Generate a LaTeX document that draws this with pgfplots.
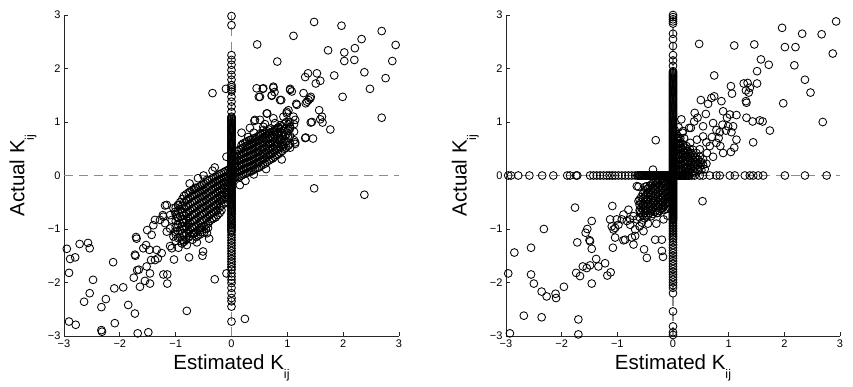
\documentclass[border=0pt]{standalone}
\usepackage{fontspec}
\setmainfont{Liberation Sans}
\usepackage{pgfplots}
\pgfplotsset{compat=1.18}

\definecolor{dashgray}{RGB}{140,140,140}
\newcommand{\Kij}{K\raisebox{-9.5pt}{\fontsize{12.5}{13}\selectfont ij}}

\pgfplotsset{kstyle/.style={
  scale only axis, height=321pt,
  xmin=-3, xmax=3, ymin=-3, ymax=3,
  axis x line=bottom, axis y line=left,
  axis line style={-, line width=0.8pt, black!85},
  tick align=inside, major tick length=4pt,
  tick style={black!85, line width=0.8pt},
  xtick={-3,...,3}, ytick={-3,...,3},
  xticklabels={−3,−2,−1,0,1,2,3}, yticklabels={−3,−2,−1,0,1,2,3},
  tick label style={font=\fontsize{11}{12}\selectfont},
  label style={font=\fontsize{20.5}{24}\selectfont},
  xlabel={Estimated \Kij}, ylabel={Actual \Kij},
  xlabel style={at={(axis description cs:0.5,-0.103)}, anchor=base},
  ylabel style={at={(axis description cs:-0.118,0.5)}, anchor=base},
  clip=false},
  zeroline/.style={dashgray, line width=1.3pt, dash pattern=on 9pt off 6pt, forget plot},
  pts/.style={only marks, mark=o, mark size=3.9pt, black, mark options={line width=0.85pt}}
}

\begin{document}
\begin{tikzpicture}
\path[use as bounding box] (0,0) rectangle (853pt,386pt);

% ---------- left: first estimator ----------
\begin{axis}[kstyle, width=335pt, at={(64pt,50pt)}, anchor=south west]
\addplot[zeroline] coordinates {(-3,0) (3,0)};
\addplot[zeroline] coordinates {(0,-3) (0,3)};
% column at estimated = 0
\addplot[pts] coordinates {
(0,2.98)(0,2.81)(0,2.25)(0,2.16)(0,2.07)(0,1.97)(0,1.88)(0,1.79)(0,1.69)(0,1.65)(0,1.61)(0,1.57)(0,1.47)(0,1.38)(0,1.29)(0,1.19)(0,1.10)
(0,1.06)(0,1.02)(0,0.98)(0,0.94)(0,0.90)(0,0.86)(0,0.82)(0,0.78)(0,0.74)(0,0.70)(0,0.66)(0,0.62)(0,0.58)(0,0.54)(0,0.50)(0,0.46)(0,0.42)(0,0.38)(0,0.34)(0,0.30)(0,0.26)(0,0.22)(0,0.18)(0,0.14)(0,0.10)(0,0.06)(0,0.02)
(0,1.08)(0,1.04)(0,1.00)(0,0.96)(0,0.92)(0,0.88)(0,0.84)(0,0.80)(0,0.76)(0,0.72)(0,0.68)(0,0.64)(0,0.60)(0,0.56)(0,0.52)(0,0.48)(0,0.44)(0,0.40)(0,0.36)(0,0.32)(0,0.28)(0,0.24)(0,0.20)(0,0.16)(0,0.12)(0,0.08)(0,0.04)(0,0.00)
(0,-0.02)(0,-0.06)(0,-0.10)(0,-0.14)(0,-0.18)(0,-0.22)(0,-0.26)(0,-0.30)(0,-0.34)(0,-0.38)(0,-0.42)(0,-0.46)(0,-0.50)(0,-0.54)(0,-0.58)(0,-0.62)(0,-0.66)(0,-0.71)(0,-0.76)(0,-0.81)(0,-0.86)(0,-0.91)(0,-0.96)(0,-1.01)(0,-1.06)(0,-1.11)(0,-1.16)(0,-1.21)(0,-1.26)(0,-1.31)(0,-1.36)(0,-1.41)(0,-1.46)(0,-1.51)(0,-1.56)(0,-1.61)(0,-1.66)(0,-1.71)(0,-1.76)
(0,-0.04)(0,-0.08)(0,-0.12)(0,-0.16)(0,-0.20)(0,-0.24)(0,-0.28)(0,-0.32)(0,-0.36)(0,-0.40)(0,-0.44)(0,-0.48)(0,-0.52)(0,-0.56)(0,-0.60)(0,-0.64)(0,-0.68)(0,-0.73)(0,-0.78)(0,-0.83)(0,-0.88)(0,-0.93)(0,-0.98)(0,-1.03)
(0,-1.83)(0,-1.89)(0,-1.95)(0,-2.01)(0,-2.10)(0,-2.20)(0,-2.29)(0,-2.35)(0,-2.45)(0,-2.73)
};
% main diagonal band
\addplot[pts] coordinates {
(-1.00,-0.60)(-1.00,-0.72)(-1.00,-0.85)(-1.00,-0.97)(-1.00,-1.10)(-1.00,-1.22)
(-0.92,-0.50)(-0.92,-0.63)(-0.92,-0.76)(-0.92,-0.90)(-0.92,-1.03)(-0.92,-1.16)
(-0.85,-0.38)(-0.85,-0.50)(-0.85,-0.62)(-0.85,-0.75)(-0.85,-0.88)(-0.85,-1.00)(-0.85,-1.12)(-0.85,-1.24)
(-0.77,-0.32)(-0.77,-0.44)(-0.77,-0.56)(-0.77,-0.68)(-0.77,-0.80)(-0.77,-0.92)(-0.77,-1.04)(-0.77,-1.16)
(-0.70,-0.27)(-0.70,-0.38)(-0.70,-0.50)(-0.70,-0.62)(-0.70,-0.74)(-0.70,-0.86)(-0.70,-0.98)(-0.70,-1.10)(-0.70,-1.20)
(-0.63,-0.24)(-0.63,-0.35)(-0.63,-0.46)(-0.63,-0.58)(-0.63,-0.70)(-0.63,-0.82)(-0.63,-0.94)(-0.63,-1.06)(-0.63,-1.15)
(-0.56,-0.20)(-0.56,-0.30)(-0.56,-0.41)(-0.56,-0.52)(-0.56,-0.63)(-0.56,-0.75)(-0.56,-0.86)(-0.56,-0.98)(-0.56,-1.10)
(-0.49,-0.16)(-0.49,-0.27)(-0.49,-0.38)(-0.49,-0.49)(-0.49,-0.60)(-0.49,-0.71)(-0.49,-0.83)(-0.49,-0.95)(-0.49,-1.06)
(-0.42,-0.10)(-0.42,-0.21)(-0.42,-0.32)(-0.42,-0.43)(-0.42,-0.54)(-0.42,-0.65)(-0.42,-0.77)(-0.42,-0.90)(-0.42,-0.98)
(-0.35,-0.06)(-0.35,-0.16)(-0.35,-0.27)(-0.35,-0.38)(-0.35,-0.49)(-0.35,-0.60)(-0.35,-0.71)(-0.35,-0.82)
(-0.28,-0.02)(-0.28,-0.12)(-0.28,-0.22)(-0.28,-0.33)(-0.28,-0.44)(-0.28,-0.55)(-0.28,-0.66)(-0.28,-0.78)
(-0.21,0.02)(-0.21,-0.08)(-0.21,-0.18)(-0.21,-0.28)(-0.21,-0.38)(-0.21,-0.48)(-0.21,-0.60)(-0.21,-0.70)
(-0.14,0.06)(-0.14,-0.04)(-0.14,-0.13)(-0.14,-0.23)(-0.14,-0.33)(-0.14,-0.43)(-0.14,-0.53)
(-0.07,0.10)(-0.07,0.00)(-0.07,-0.09)(-0.07,-0.18)(-0.07,-0.27)(-0.07,-0.36)(-0.07,-0.45)
(0.07,-0.04)(0.07,0.05)(0.07,0.14)(0.07,0.23)(0.07,0.32)(0.07,0.41)
(0.14,-0.02)(0.14,0.08)(0.14,0.18)(0.14,0.28)(0.14,0.38)(0.14,0.48)
(0.21,0.02)(0.21,0.12)(0.21,0.22)(0.21,0.32)(0.21,0.42)(0.21,0.52)(0.21,0.60)
(0.28,0.05)(0.28,0.15)(0.28,0.25)(0.28,0.35)(0.28,0.45)(0.28,0.55)(0.28,0.64)
(0.35,0.08)(0.35,0.18)(0.35,0.28)(0.35,0.38)(0.35,0.48)(0.35,0.58)(0.35,0.67)
(0.42,0.12)(0.42,0.22)(0.42,0.32)(0.42,0.42)(0.42,0.52)(0.42,0.62)(0.42,0.70)
(0.49,0.15)(0.49,0.25)(0.49,0.35)(0.49,0.45)(0.49,0.55)(0.49,0.65)(0.49,0.74)
(0.56,0.20)(0.56,0.30)(0.56,0.40)(0.56,0.50)(0.56,0.60)(0.56,0.70)(0.56,0.78)
(0.63,0.25)(0.63,0.35)(0.63,0.45)(0.63,0.55)(0.63,0.65)(0.63,0.75)(0.63,0.83)
(0.70,0.30)(0.70,0.40)(0.70,0.50)(0.70,0.60)(0.70,0.70)(0.70,0.80)(0.70,0.88)
(0.77,0.35)(0.77,0.45)(0.77,0.55)(0.77,0.65)(0.77,0.75)(0.77,0.85)
(0.84,0.40)(0.84,0.50)(0.84,0.60)(0.84,0.70)(0.84,0.80)(0.84,0.90)
(0.91,0.46)(0.91,0.57)(0.91,0.68)(0.91,0.80)(0.91,0.92)
(0.98,0.52)(0.98,0.64)(0.98,0.76)(0.98,0.88)(0.98,1.00)
(1.05,0.60)(1.05,0.74)(1.05,0.88)(1.05,1.00)
(1.12,0.66)(1.12,0.82)(1.12,0.96)
(-0.96,-0.55)(-0.96,-0.67)(-0.96,-0.79)(-0.96,-0.92)(-0.96,-1.04)(-0.96,-1.17)
(-0.88,-0.44)(-0.88,-0.56)(-0.88,-0.69)(-0.88,-0.82)(-0.88,-0.95)(-0.88,-1.08)(-0.88,-1.20)
(-0.81,-0.35)(-0.81,-0.47)(-0.81,-0.59)(-0.81,-0.72)(-0.81,-0.84)(-0.81,-0.96)(-0.81,-1.08)(-0.81,-1.20)
(-0.74,-0.30)(-0.74,-0.41)(-0.74,-0.53)(-0.74,-0.65)(-0.74,-0.77)(-0.74,-0.89)(-0.74,-1.01)(-0.74,-1.13)
(-0.67,-0.26)(-0.67,-0.37)(-0.67,-0.48)(-0.67,-0.60)(-0.67,-0.72)(-0.67,-0.84)(-0.67,-0.96)(-0.67,-1.08)
(-0.60,-0.22)(-0.60,-0.32)(-0.60,-0.43)(-0.60,-0.55)(-0.60,-0.66)(-0.60,-0.78)(-0.60,-0.90)(-0.60,-1.02)(-0.60,-1.12)
(-0.53,-0.18)(-0.53,-0.28)(-0.53,-0.39)(-0.53,-0.50)(-0.53,-0.61)(-0.53,-0.73)(-0.53,-0.84)(-0.53,-0.96)(-0.53,-1.06)
(-0.46,-0.13)(-0.46,-0.24)(-0.46,-0.35)(-0.46,-0.46)(-0.46,-0.57)(-0.46,-0.68)(-0.46,-0.80)(-0.46,-0.92)(-0.46,-1.00)
(-0.39,-0.08)(-0.39,-0.19)(-0.39,-0.30)(-0.39,-0.41)(-0.39,-0.52)(-0.39,-0.63)(-0.39,-0.74)(-0.39,-0.85)
(-0.32,-0.04)(-0.32,-0.14)(-0.32,-0.25)(-0.32,-0.36)(-0.32,-0.47)(-0.32,-0.58)(-0.32,-0.69)(-0.32,-0.80)
(-0.25,0.00)(-0.25,-0.10)(-0.25,-0.20)(-0.25,-0.31)(-0.25,-0.42)(-0.25,-0.53)(-0.25,-0.64)(-0.25,-0.74)
(-0.18,0.04)(-0.18,-0.06)(-0.18,-0.16)(-0.18,-0.26)(-0.18,-0.36)(-0.18,-0.46)(-0.18,-0.56)(-0.18,-0.65)
(-0.11,0.08)(-0.11,-0.02)(-0.11,-0.11)(-0.11,-0.20)(-0.11,-0.30)(-0.11,-0.40)(-0.11,-0.50)
(-0.04,0.12)(-0.04,0.03)(-0.04,-0.06)(-0.04,-0.15)(-0.04,-0.24)(-0.04,-0.33)(-0.04,-0.42)
(0.04,-0.06)(0.04,0.02)(0.04,0.10)(0.04,0.19)(0.04,0.28)(0.04,0.37)
(0.11,-0.03)(0.11,0.06)(0.11,0.16)(0.11,0.26)(0.11,0.35)(0.11,0.45)
(0.18,0.00)(0.18,0.10)(0.18,0.20)(0.18,0.30)(0.18,0.40)(0.18,0.50)(0.18,0.57)
(0.25,0.04)(0.25,0.14)(0.25,0.24)(0.25,0.34)(0.25,0.44)(0.25,0.54)(0.25,0.62)
(0.32,0.07)(0.32,0.17)(0.32,0.27)(0.32,0.37)(0.32,0.47)(0.32,0.57)(0.32,0.66)
(0.39,0.10)(0.39,0.20)(0.39,0.30)(0.39,0.40)(0.39,0.50)(0.39,0.60)(0.39,0.69)
(0.46,0.14)(0.46,0.24)(0.46,0.34)(0.46,0.44)(0.46,0.54)(0.46,0.64)(0.46,0.72)
(0.53,0.18)(0.53,0.28)(0.53,0.38)(0.53,0.48)(0.53,0.58)(0.53,0.68)(0.53,0.76)
(0.60,0.22)(0.60,0.32)(0.60,0.42)(0.60,0.52)(0.60,0.62)(0.60,0.72)(0.60,0.80)
(0.67,0.28)(0.67,0.38)(0.67,0.48)(0.67,0.58)(0.67,0.68)(0.67,0.78)(0.67,0.86)
(0.74,0.32)(0.74,0.42)(0.74,0.52)(0.74,0.62)(0.74,0.72)(0.74,0.82)
(0.81,0.38)(0.81,0.48)(0.81,0.58)(0.81,0.68)(0.81,0.78)(0.81,0.88)
(0.88,0.43)(0.88,0.54)(0.88,0.65)(0.88,0.76)(0.88,0.87)
(0.95,0.50)(0.95,0.62)(0.95,0.74)(0.95,0.86)(0.95,0.97)
(1.02,0.56)(1.02,0.70)(1.02,0.84)(1.02,0.96)
};
% scattered points
\addplot[pts] coordinates {
(0.46,2.45)(-0.34,1.54)(-0.10,1.62)(0.45,1.63)(0.49,1.47)(0.41,1.02)(0.33,0.89)(0.18,0.80)
(-0.34,0.09)(-0.09,0.35)(0.15,-0.18)(-0.44,-0.08)(-0.65,-0.23)
(1.48,2.87)(1.97,2.80)(1.11,2.61)(2.69,2.70)(2.94,2.44)(2.33,2.55)(2.21,2.38)(2.02,2.30)(1.73,2.34)
(2.20,2.16)(2.02,2.14)(2.88,2.14)(0.82,2.13)(1.37,1.91)(1.32,1.84)(1.53,1.91)(1.59,1.77)(1.51,1.72)
(1.84,1.87)(2.38,1.93)(2.76,1.82)(2.48,1.62)(1.99,1.47)(2.69,1.08)
(0.56,1.62)(0.51,1.47)(0.75,1.64)(0.72,1.49)(0.77,1.56)(0.89,1.41)(1.05,1.62)(1.08,1.57)
(1.29,1.54)(1.42,1.47)(1.38,1.41)(1.33,1.35)(1.16,1.34)(1.57,1.22)(1.62,1.10)(1.59,1.05)(1.63,0.99)
(1.42,0.99)(1.77,0.86)(1.33,0.71)(1.46,0.69)(1.14,0.59)(1.05,0.52)(1.48,-0.24)(2.38,-0.36)(0.24,-2.68)
(0.57,1.63)(0.75,1.66)(0.72,1.50)(0.87,1.41)(1.05,1.60)(1.35,1.38)(1.41,1.44)(1.44,1.00)(1.17,1.32)
(0.99,1.19)(0.63,1.16)(0.51,1.04)(0.42,1.04)(0.78,0.98)(0.84,0.88)(0.57,0.85)(1.32,0.70)(1.14,0.62)
(0.57,0.91)(0.64,1.16)(0.75,1.07)(0.87,0.94)(0.52,0.79)(0.87,0.66)(0.69,0.60)(0.93,0.54)(0.99,1.16)
(1.02,1.22)(0.93,1.10)(1.11,1.10)(1.14,1.04)(1.05,0.91)(0.78,0.82)(0.60,0.96)(0.30,0.72)(0.40,0.80)
(-2.95,-1.37)(-2.89,-1.56)(-2.80,-1.53)(-2.91,-1.82)(-2.72,-1.28)(-2.57,-1.26)(-2.54,-1.36)
(-2.48,-1.95)(-2.54,-2.20)(-2.64,-2.36)(-2.33,-2.46)(-2.25,-2.31)(-2.91,-2.73)(-2.79,-2.79)
(-2.33,-2.89)(-2.32,-2.92)(-2.12,-1.62)(-2.09,-2.76)(-2.10,-2.11)(-1.94,-2.09)(-1.85,-2.42)(-1.73,-2.58)
(-1.68,-2.95)(-1.49,-2.93)(-1.71,-1.15)(-1.70,-1.18)(-1.73,-1.48)(-1.72,-1.50)(-1.69,-1.77)(-1.66,-1.76)
(-1.75,-1.91)(-1.64,-2.08)(-1.46,-2.02)(-1.55,-1.97)(-1.58,-1.36)(-1.47,-1.39)(-1.53,-1.30)
(-1.51,-1.02)(-1.40,-0.93)(-1.37,-0.83)(-1.43,-1.11)(-1.28,-0.83)
(-1.34,-1.39)(-1.25,-1.45)(-1.32,-1.55)(-1.44,-1.58)(-1.37,-1.58)(-1.52,-1.70)(-1.46,-1.83)
(-1.22,-1.85)(-1.15,-1.85)(-1.15,-2.02)(-1.03,-1.57)
(-1.19,-0.56)(-0.95,-0.56)(-1.23,-0.74)(-1.10,-0.74)(-1.01,-0.68)(-1.19,-0.89)(-1.16,-1.05)
(-1.10,-0.99)(-1.01,-1.05)(-1.04,-1.14)(-1.10,-1.32)(-1.07,-1.36)(-0.86,-1.21)(-0.89,-1.27)
(-0.76,-1.53)(-0.80,-2.53)(-0.51,-1.42)(-0.52,-1.50)(-0.30,-1.94)(-0.09,-1.83)
(-1.16,-0.55)(-1.04,-0.61)(-1.22,-0.77)(-1.07,-0.83)(-0.98,-0.77)(-0.86,-0.89)(-0.71,-0.96)
(-0.68,-1.08)(-0.56,-1.02)(-0.44,-1.08)(-0.80,-1.30)(-0.62,-1.25)(-0.40,-1.18)(-0.95,-1.35)
(-0.75,-0.15)(-0.60,-0.05)(-0.30,0.15)(-0.50,0.00)(0.25,-0.10)(0.40,0.02)(0.62,0.12)(0.90,0.30)
};
\end{axis}

% ---------- right: second estimator ----------
\begin{axis}[kstyle, width=334pt, at={(506pt,50pt)}, anchor=south west]
\addplot[zeroline] coordinates {(-3,0) (3,0)};
\addplot[zeroline] coordinates {(0,-3) (0,3)};
% row at actual = 0
\addplot[pts] coordinates {
(-2.96,0)(-2.91,0)(-2.78,0)(-2.58,0)(-2.35,0)(-2.15,0)(-1.90,0)(-1.85,0)(-1.74,0)(-1.72,0)
(-1.49,0)(-1.43,0)(-1.37,0)(-1.31,0)(-1.25,0)(-1.19,0)(-1.14,0)(-1.09,0)(-1.04,0)(-0.98,0)
(-0.92,0)(-0.86,0)(-0.80,0)(-0.74,0)(-0.68,0)
(-0.64,0)(-0.61,0)(-0.58,0)(-0.55,0)(-0.52,0)(-0.49,0)(-0.46,0)(-0.43,0)(-0.40,0)(-0.37,0)
(-0.34,0)(-0.31,0)(-0.28,0)(-0.25,0)(-0.22,0)(-0.19,0)(-0.16,0)(-0.13,0)(-0.10,0)(-0.07,0)(-0.04,0)
(-0.625,0)(-0.595,0)(-0.565,0)(-0.535,0)(-0.505,0)(-0.475,0)(-0.445,0)(-0.415,0)(-0.385,0)(-0.355,0)
(-0.325,0)(-0.295,0)(-0.265,0)(-0.235,0)(-0.205,0)(-0.175,0)(-0.145,0)(-0.115,0)(-0.085,0)(-0.055,0)(-0.025,0)
(0.03,0)(0.06,0)(0.09,0)(0.12,0)(0.15,0)(0.18,0)(0.21,0)(0.24,0)(0.27,0)(0.30,0)(0.34,0)
(0.045,0)(0.075,0)(0.105,0)(0.135,0)(0.165,0)(0.195,0)(0.225,0)(0.255,0)(0.285,0)
(0.39,0)(0.48,0)(0.54,0)(0.66,0)(0.78,0)(0.84,0)(1.02,0)(1.11,0)(1.29,0)(1.38,0)(1.44,0)
(1.53,0)(1.62,0)(2.01,0)(2.37,0)(2.76,0)
};
% column at estimated = 0
\addplot[pts] coordinates {
(0,3.00)(0,2.96)(0,2.92)(0,2.88)(0,2.84)(0,2.65)(0,2.55)(0,2.42)(0,2.25)(0,2.15)(0,2.05)
(0,1.95)(0,1.91)(0,1.87)(0,1.83)(0,1.79)(0,1.75)(0,1.71)(0,1.67)(0,1.63)(0,1.59)(0,1.55)
(0,1.51)(0,1.47)(0,1.43)(0,1.39)(0,1.35)(0,1.31)(0,1.27)(0,1.23)(0,1.19)(0,1.15)(0,1.11)
(0,1.07)(0,1.03)(0,0.99)(0,0.95)(0,0.91)(0,0.87)(0,0.83)(0,0.79)(0,0.75)(0,0.71)(0,0.67)
(0,0.63)(0,0.59)(0,0.55)(0,0.51)(0,0.47)(0,0.43)(0,0.39)(0,0.35)(0,0.31)(0,0.27)(0,0.23)
(0,0.19)(0,0.15)(0,0.11)(0,0.07)(0,0.03)
(0,1.93)(0,1.89)(0,1.85)(0,1.81)(0,1.77)(0,1.73)(0,1.69)(0,1.65)(0,1.61)(0,1.57)(0,1.53)
(0,1.49)(0,1.45)(0,1.41)(0,1.37)(0,1.33)(0,1.29)(0,1.25)(0,1.21)(0,1.17)(0,1.13)(0,1.09)
(0,1.05)(0,1.01)(0,0.97)(0,0.93)(0,0.89)(0,0.85)(0,0.81)(0,0.77)(0,0.73)(0,0.69)(0,0.65)
(0,0.61)(0,0.57)(0,0.53)(0,0.49)(0,0.45)(0,0.41)(0,0.37)(0,0.33)(0,0.29)(0,0.25)(0,0.21)
(0,0.17)(0,0.13)(0,0.09)(0,0.05)(0,0.01)
(0,-0.03)(0,-0.06)(0,-0.09)(0,-0.12)(0,-0.15)(0,-0.18)(0,-0.21)(0,-0.24)(0,-0.27)(0,-0.30)
(0,-0.33)(0,-0.36)(0,-0.39)(0,-0.42)(0,-0.45)(0,-0.48)(0,-0.51)(0,-0.54)(0,-0.57)(0,-0.60)
(0,-0.63)(0,-0.66)(0,-0.69)(0,-0.72)(0,-0.75)(0,-0.78)(0,-0.81)(0,-0.84)(0,-0.87)(0,-0.90)
(0,-0.045)(0,-0.075)(0,-0.105)(0,-0.135)(0,-0.165)(0,-0.195)(0,-0.225)(0,-0.255)(0,-0.285)
(0,-0.315)(0,-0.345)(0,-0.375)(0,-0.405)(0,-0.435)(0,-0.465)(0,-0.495)(0,-0.525)(0,-0.555)
(0,-0.585)(0,-0.615)(0,-0.645)(0,-0.675)(0,-0.705)(0,-0.735)(0,-0.765)(0,-0.795)(0,-0.825)
(0,-0.93)(0,-0.96)(0,-0.99)(0,-1.02)(0,-1.05)(0,-1.08)(0,-1.11)(0,-1.14)(0,-1.17)(0,-1.20)
(0,-1.25)(0,-1.30)(0,-1.35)(0,-1.40)(0,-1.45)(0,-1.50)(0,-1.55)(0,-1.60)(0,-1.65)(0,-1.70)
(0,-1.75)(0,-1.80)(0,-1.85)(0,-1.90)(0,-1.95)(0,-2.00)(0,-2.05)(0,-2.10)
(0,-2.20)(0,-2.54)(0,-2.82)(0,-2.93)(0,-2.98)
};
% dense corner clusters
\addplot[pts] coordinates {
(0.06,0.08)(0.06,0.18)(0.06,0.28)(0.06,0.38)(0.06,0.48)(0.06,0.58)(0.06,0.68)(0.06,0.78)
(0.12,0.06)(0.12,0.15)(0.12,0.25)(0.12,0.35)(0.12,0.45)(0.12,0.55)(0.12,0.65)
(0.18,0.08)(0.18,0.18)(0.18,0.28)(0.18,0.38)(0.18,0.48)(0.18,0.58)
(0.24,0.06)(0.24,0.15)(0.24,0.25)(0.24,0.35)(0.24,0.45)(0.24,0.55)
(0.30,0.10)(0.30,0.20)(0.30,0.30)(0.30,0.40)(0.30,0.50)
(0.36,0.08)(0.36,0.18)(0.36,0.28)(0.36,0.38)(0.36,0.48)
(0.42,0.12)(0.42,0.22)(0.42,0.32)(0.42,0.42)
(0.48,0.15)(0.48,0.25)(0.48,0.35)(0.54,0.20)(0.54,0.30)(0.60,0.22)
(0.03,0.13)(0.03,0.23)(0.03,0.33)(0.03,0.43)(0.03,0.53)(0.03,0.63)(0.03,0.73)(0.03,0.85)
(0.09,0.10)(0.09,0.20)(0.09,0.30)(0.09,0.40)(0.09,0.50)(0.09,0.60)(0.09,0.70)
(0.15,0.10)(0.15,0.20)(0.15,0.30)(0.15,0.40)(0.15,0.50)(0.15,0.60)
(0.21,0.12)(0.21,0.22)(0.21,0.32)(0.21,0.42)(0.21,0.52)
(0.27,0.06)(0.27,0.15)(0.27,0.25)(0.27,0.35)(0.27,0.45)
(0.33,0.12)(0.33,0.22)(0.33,0.32)(0.33,0.42)
(0.39,0.06)(0.39,0.15)(0.39,0.25)(0.39,0.35)
(0.45,0.10)(0.45,0.20)(0.45,0.30)(0.51,0.10)(0.51,0.25)(0.57,0.12)
(-0.06,-0.05)(-0.06,-0.14)(-0.06,-0.23)(-0.06,-0.32)(-0.06,-0.41)(-0.06,-0.50)
(-0.12,-0.08)(-0.12,-0.17)(-0.12,-0.26)(-0.12,-0.35)(-0.12,-0.44)(-0.12,-0.53)(-0.12,-0.62)
(-0.18,-0.05)(-0.18,-0.14)(-0.18,-0.23)(-0.18,-0.32)(-0.18,-0.41)(-0.18,-0.50)(-0.18,-0.60)
(-0.24,-0.10)(-0.24,-0.19)(-0.24,-0.28)(-0.24,-0.37)(-0.24,-0.46)(-0.24,-0.56)(-0.24,-0.66)
(-0.30,-0.08)(-0.30,-0.17)(-0.30,-0.26)(-0.30,-0.35)(-0.30,-0.45)(-0.30,-0.55)(-0.30,-0.65)
(-0.36,-0.14)(-0.36,-0.23)(-0.36,-0.32)(-0.36,-0.42)(-0.36,-0.52)(-0.36,-0.62)(-0.36,-0.72)
(-0.42,-0.20)(-0.42,-0.30)(-0.42,-0.40)(-0.42,-0.50)(-0.42,-0.60)(-0.42,-0.70)
(-0.48,-0.26)(-0.48,-0.36)(-0.48,-0.46)(-0.48,-0.56)(-0.48,-0.66)(-0.48,-0.76)
(-0.54,-0.34)(-0.54,-0.44)(-0.54,-0.54)(-0.54,-0.64)(-0.54,-0.74)
(-0.60,-0.45)(-0.60,-0.55)(-0.60,-0.65)(-0.60,-0.78)
(-0.03,-0.10)(-0.03,-0.19)(-0.03,-0.28)(-0.03,-0.37)(-0.03,-0.46)
(-0.09,-0.04)(-0.09,-0.12)(-0.09,-0.21)(-0.09,-0.30)(-0.09,-0.40)(-0.09,-0.50)(-0.09,-0.58)
(-0.15,-0.10)(-0.15,-0.19)(-0.15,-0.28)(-0.15,-0.37)(-0.15,-0.46)(-0.15,-0.55)(-0.15,-0.64)
(-0.21,-0.06)(-0.21,-0.15)(-0.21,-0.24)(-0.21,-0.33)(-0.21,-0.42)(-0.21,-0.52)(-0.21,-0.62)
(-0.27,-0.13)(-0.27,-0.22)(-0.27,-0.31)(-0.27,-0.40)(-0.27,-0.50)(-0.27,-0.60)(-0.27,-0.70)
(-0.33,-0.10)(-0.33,-0.19)(-0.33,-0.28)(-0.33,-0.38)(-0.33,-0.48)(-0.33,-0.58)(-0.33,-0.68)
(-0.39,-0.17)(-0.39,-0.26)(-0.39,-0.36)(-0.39,-0.46)(-0.39,-0.56)(-0.39,-0.66)(-0.39,-0.76)
(-0.45,-0.24)(-0.45,-0.34)(-0.45,-0.44)(-0.45,-0.54)(-0.45,-0.64)(-0.45,-0.74)
(-0.51,-0.30)(-0.51,-0.40)(-0.51,-0.50)(-0.51,-0.60)(-0.51,-0.70)(-0.51,-0.80)
(-0.57,-0.40)(-0.57,-0.50)(-0.57,-0.60)(-0.57,-0.70)
};
% scattered points
\addplot[pts] coordinates {
(-0.31,0.66)(-0.36,0.11)(-0.62,-0.21)(-0.50,-0.21)(0.17,0.80)(0.29,0.89)(0.53,-0.48)
(2.93,2.88)(1.96,2.76)(2.32,2.65)(2.67,2.64)(2.87,2.28)(2.01,2.40)(2.20,2.40)(0.47,2.46)
(1.10,2.43)(1.46,2.45)(1.58,2.17)(1.72,2.07)(2.18,2.06)(1.51,1.95)(1.51,1.72)(0.74,1.87)
(2.37,1.79)(2.47,1.55)(1.27,1.72)(1.34,1.73)(1.38,1.64)(1.31,1.59)(1.36,1.55)(1.31,1.39)
(1.32,1.36)(1.04,1.67)(1.06,1.53)(1.98,1.35)(0.50,1.41)(0.63,1.34)(0.69,1.45)(0.74,1.48)
(0.87,1.39)(2.69,1.00)(1.44,0.62)
(0.39,1.17)(0.59,1.15)(0.44,1.08)(0.54,0.92)(0.38,1.01)(0.72,0.98)(0.90,1.20)(0.97,1.08)
(1.02,1.14)(1.14,1.13)(0.89,0.95)(0.99,0.92)(1.08,0.92)(0.78,0.85)(0.95,0.84)(0.84,0.81)
(1.05,0.81)(1.32,1.08)(1.43,1.01)(1.56,1.03)(1.61,1.01)(1.74,0.84)(1.10,0.52)(1.04,0.44)
(0.32,0.89)(0.18,0.83)(0.13,0.70)(0.31,0.61)(0.43,0.67)(0.54,0.73)(0.48,0.49)(0.66,0.55)
(0.78,0.61)(0.61,0.42)(0.90,0.42)(1.14,0.67)(0.12,0.60)(0.20,0.70)(0.10,0.90)(0.15,1.05)
(0.60,0.62)(0.70,0.72)(0.82,0.70)(0.72,0.35)(0.85,0.55)
(-2.93,-2.95)(-2.96,-1.83)(-2.85,-1.44)(-2.55,-1.35)(-2.32,-1.00)(-2.55,-1.85)(-2.50,-2.02)
(-2.68,-2.62)(-2.36,-2.65)(-2.36,-2.17)(-2.27,-2.26)(-2.11,-2.21)(-2.10,-2.29)(-1.96,-2.08)
(-1.70,-2.69)(-1.70,-2.97)(-1.76,-0.60)(-1.72,-1.25)(-1.57,-1.07)(-1.54,-1.00)(-1.46,-0.85)
(-1.50,-1.21)(-1.46,-1.37)(-1.49,-1.23)(-1.74,-1.82)(-1.67,-1.88)(-1.62,-1.70)(-1.55,-1.73)
(-1.49,-1.68)(-1.46,-2.02)(-1.38,-1.56)(-1.34,-1.70)(-1.22,-1.64)(-1.18,-1.87)(-1.12,-1.81)
(-1.09,-0.57)(-1.13,-0.82)(-1.10,-0.95)(-1.07,-1.01)(-1.04,-0.98)(-0.98,-0.92)(-1.08,-1.35)
(-1.04,-1.16)(-0.89,-1.21)(-0.86,-1.20)(-0.92,-0.82)(-0.83,-0.85)(-0.77,-0.82)(-0.77,-0.92)
(-0.74,-1.16)(-0.68,-1.01)(-0.68,-1.13)(-0.65,-0.82)(-0.56,-0.88)(-0.53,-1.04)(-0.52,-1.38)
(-0.47,-1.54)(-0.32,-1.20)(-0.20,-1.20)(-0.20,-1.41)(-0.18,-1.52)
(-0.65,-0.20)(-0.47,-0.20)(-0.29,-0.14)(-0.62,-0.48)(-0.47,-0.45)(-0.35,-0.48)(-0.38,-0.64)
(-0.29,-0.70)(-0.17,-0.57)(-0.71,-0.76)(-0.59,-0.67)(-0.71,-1.29)(-0.17,-0.82)(-0.80,-0.64)
(-0.89,-0.73)(-1.01,-0.82)(-0.45,-0.90)(-0.30,-0.90)(-0.60,-0.95)(-0.10,-0.75)
};
\end{axis}
\end{tikzpicture}
\end{document}
